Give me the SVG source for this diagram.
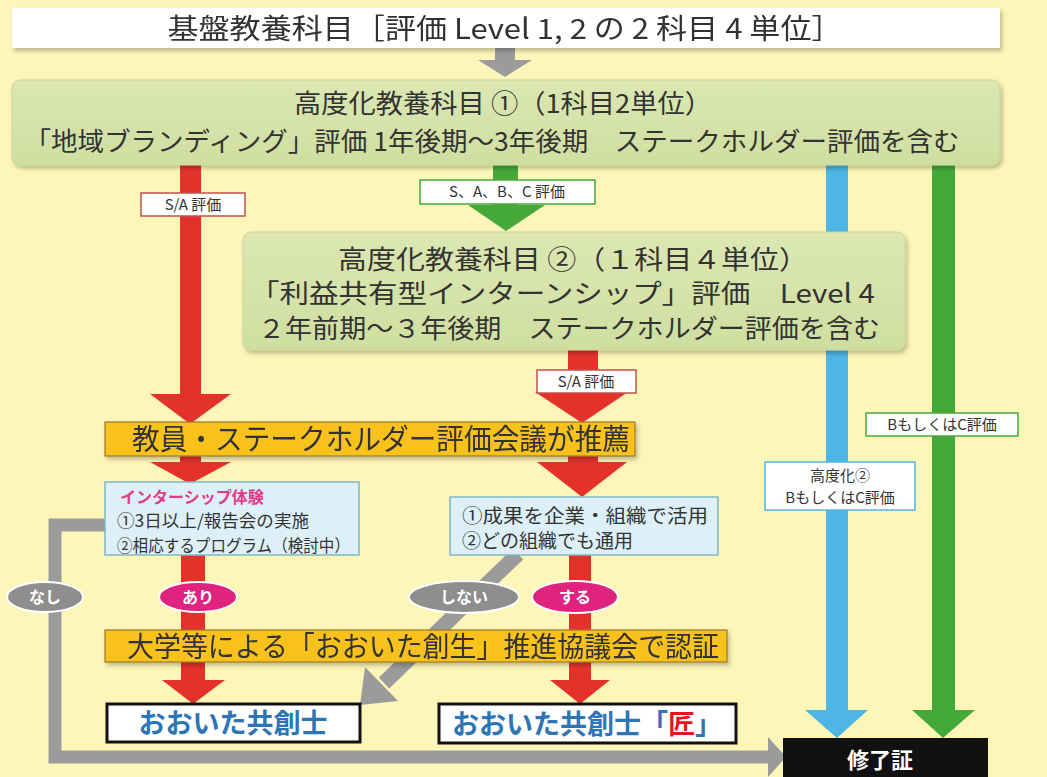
<svg xmlns="http://www.w3.org/2000/svg" width="1047" height="777" viewBox="0 0 1047 777">
<defs>
<filter id="sh" x="-5%" y="-20%" width="110%" height="150%"><feDropShadow dx="2" dy="3" stdDeviation="2" flood-color="#000" flood-opacity="0.25"/></filter>
<linearGradient id="gbox" x1="0" y1="0" x2="0" y2="1"><stop offset="0" stop-color="#DCE7B2"/><stop offset="1" stop-color="#CFDEA0"/></linearGradient>
</defs>
<style>
text{font-family:"Noto Sans CJK JP","Noto Sans",sans-serif;fill:#333}
.big{font-size:26px}
.lbl{font-size:15px}
.red{fill:#E4322B}
.grn{fill:#45A93A}
.blu{fill:#4DB6E5}
.gry{fill:#9B9B9B}
.lblbox{fill:#fff;stroke-width:1.5}
.gbox{fill:url(#gbox);stroke:#C8D79A;stroke-width:1}
.obar{fill:#F8C11C;stroke:#9C7A24;stroke-width:1.2}
.ibox{fill:#DDF0F8;stroke:#7DB8C8;stroke-width:1.5}
.res{fill:#fff;stroke:#111;stroke-width:3}
.rest{font-size:27px;font-weight:bold;fill:#2E75B6}
.ell{font-size:16px;fill:#fff;font-weight:bold}
</style>
<rect width="1047" height="777" fill="#FEF6B8"/>

<g id="connectors">
<rect class="gry" x="495" y="48" width="20" height="13"/>
<polygon class="gry" points="478,60 532,60 505,77"/>
<rect class="red" x="180" y="160" width="21" height="236"/>
<polygon class="red" points="150,394 231,394 190,424"/>
<rect class="red" x="180" y="454" width="21" height="10"/>
<polygon class="red" points="150,462 231,462 190,484"/>
<rect class="red" x="181" y="554" width="24" height="128"/>
<polygon class="red" points="162,680 225,680 193,704"/>
<rect class="grn" x="493" y="160" width="25" height="47"/>
<polygon class="grn" points="468,205 545,205 506,231"/>
<rect class="red" x="568" y="345" width="30" height="49"/>
<polygon class="red" points="535,392 628,392 582,423"/>
<rect class="red" x="568" y="454" width="30" height="10"/>
<polygon class="red" points="537,462 627,462 582,497"/>
<rect class="red" x="569" y="554" width="22" height="128"/>
<polygon class="red" points="550,680 610,680 580,704"/>
<rect class="blu" x="826" y="160" width="22" height="552"/>
<polygon class="blu" points="805,710 868,710 837,738"/>
<rect class="grn" x="932" y="160" width="23" height="552"/>
<polygon class="grn" points="912,710 975,710 943,738"/>
<path d="M106,525 H55 V757 H772" fill="none" stroke="#9B9B9B" stroke-width="13"/>
<polygon class="gry" points="768,737 768,777 786,757"/>
<path d="M518,554 L384,683" fill="none" stroke="#9B9B9B" stroke-width="15"/>
<polygon class="gry" points="360,705 365,667 398,701"/>
</g>

<g id="banner" filter="url(#sh)">
<rect x="12" y="8" width="988" height="40" fill="#fff"/>
<text x="505" y="39" text-anchor="middle" font-size="28" textLength="675" lengthAdjust="spacingAndGlyphs">基盤教養科目［評価 Level 1, 2 の 2 科目 4 単位］</text>
</g>

<g id="box1">
<rect class="gbox" x="12" y="80" width="988" height="85" rx="8" filter="url(#sh)"/>
<text class="big" x="503" y="113" text-anchor="middle" textLength="418" lengthAdjust="spacingAndGlyphs">高度化教養科目 ①（1科目2単位）</text>
<text class="big" x="492" y="151" text-anchor="middle" textLength="935" lengthAdjust="spacingAndGlyphs">「地域ブランディング」評価 1年後期～3年後期　ステークホルダー評価を含む</text>
</g>

<g id="box2">
<rect class="gbox" x="243" y="232" width="662" height="118" rx="8" filter="url(#sh)"/>
<text class="big" x="573" y="269" text-anchor="middle" textLength="470" lengthAdjust="spacingAndGlyphs">高度化教養科目 ②（１科目４単位）</text>
<text class="big" x="250" y="303" textLength="625" lengthAdjust="spacingAndGlyphs">「利益共有型インターンシップ」評価　Level 4</text>
<text class="big" x="258" y="338" textLength="622" lengthAdjust="spacingAndGlyphs">２年前期～３年後期　ステークホルダー評価を含む</text>
</g>

<g id="lbl-sa1">
<rect class="lblbox" x="141" y="193" width="104" height="23" stroke="#C0504D"/>
<text class="lbl" x="193" y="210" text-anchor="middle">S/A 評価</text>
</g>
<g id="lbl-sabc">
<rect class="lblbox" x="420" y="180" width="175" height="24" stroke="#45A93A"/>
<text class="lbl" x="507" y="197" text-anchor="middle">S、A、B、C 評価</text>
</g>
<g id="lbl-sa2">
<rect class="lblbox" x="537" y="370" width="99" height="23" stroke="#C0504D"/>
<text class="lbl" x="586" y="387" text-anchor="middle">S/A 評価</text>
</g>
<g id="lbl-bc">
<rect class="lblbox" x="866" y="413" width="152" height="23" stroke="#45A93A"/>
<text class="lbl" x="942" y="430" text-anchor="middle">BもしくはC評価</text>
</g>
<g id="lbl-bc2">
<rect class="lblbox" x="765" y="462" width="150" height="48" stroke="#4DB6E5"/>
<text class="lbl" x="840" y="481" text-anchor="middle">高度化②</text>
<text class="lbl" x="840" y="503" text-anchor="middle">BもしくはC評価</text>
</g>

<g id="bar1" filter="url(#sh)">
<rect class="obar" x="105" y="422" width="530" height="34"/>
<text x="381" y="450" text-anchor="middle" font-size="29" textLength="498" lengthAdjust="spacingAndGlyphs">教員・ステークホルダー評価会議が推薦</text>
</g>

<g id="intern">
<rect class="ibox" x="105" y="482" width="254" height="73"/>
<text x="120" y="503" font-size="16" font-weight="bold" style="fill:#E03C8A">インターシップ体験</text>
<text x="117" y="527" font-size="17" textLength="192" lengthAdjust="spacingAndGlyphs">①3日以上/報告会の実施</text>
<text x="117" y="552" font-size="17" textLength="233" lengthAdjust="spacingAndGlyphs">②相応するプログラム（検討中）</text>
</g>

<g id="practice">
<rect class="ibox" x="450" y="497" width="268" height="58"/>
<text x="462" y="523" font-size="19" textLength="246" lengthAdjust="spacingAndGlyphs">①成果を企業・組織で活用</text>
<text x="462" y="548" font-size="19">②どの組織でも通用</text>
</g>

<g id="ell-nashi"><ellipse cx="45" cy="597" rx="38" ry="15" fill="#8E8E8E" stroke="#fff" stroke-width="2"/><text class="ell" x="45" y="603" text-anchor="middle">なし</text></g>
<g id="ell-ari"><ellipse cx="198" cy="597" rx="39" ry="15" fill="#E0237F" stroke="#fff" stroke-width="2"/><text class="ell" x="198" y="603" text-anchor="middle">あり</text></g>
<g id="ell-shinai"><ellipse cx="464" cy="597" rx="55" ry="16" fill="#8E8E8E" stroke="#fff" stroke-width="2"/><text class="ell" x="464" y="603" text-anchor="middle">しない</text></g>
<g id="ell-suru"><ellipse cx="575" cy="597" rx="43" ry="16" fill="#E0237F" stroke="#fff" stroke-width="2"/><text class="ell" x="575" y="603" text-anchor="middle">する</text></g>

<g id="bar2" filter="url(#sh)">
<rect class="obar" x="105" y="630" width="622" height="32"/>
<text x="423" y="657" text-anchor="middle" font-size="28" textLength="592" lengthAdjust="spacingAndGlyphs">大学等による「おおいた創生」推進協議会で認証</text>
</g>

<g id="kyososhi">
<rect class="res" x="107" y="704" width="253" height="38"/>
<text class="rest" x="233" y="733" text-anchor="middle">おおいた共創士</text>
</g>
<g id="takumi">
<rect class="res" x="439" y="704" width="297" height="39"/>
<text class="rest" x="587" y="734" text-anchor="middle">おおいた共創士「<tspan style="fill:#E8141C">匠</tspan>」</text>
</g>

<g id="shuryo">
<rect x="783" y="738" width="205" height="45" fill="#111"/>
<text x="880" y="768" text-anchor="middle" font-size="22" font-weight="bold" style="fill:#fff">修了証</text>
</g>
</svg>
